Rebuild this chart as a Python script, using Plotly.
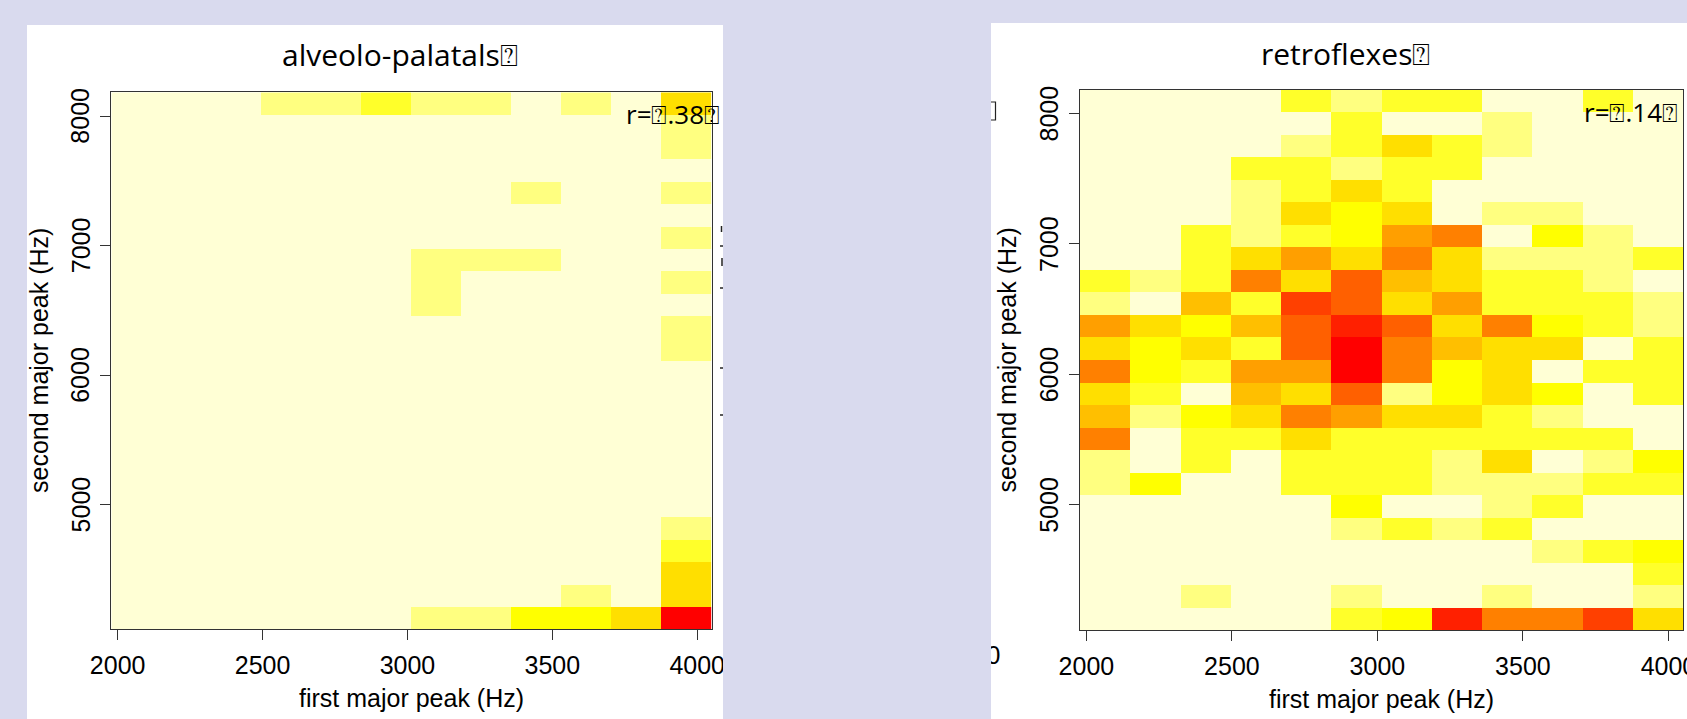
import plotly.graph_objects as go

W, H = 1687, 719
LAVENDER = "#D9DAEE"

# R heat.colors(12), reversed: level 0 (lowest) .. level 11 (highest)
HEAT = ["#FFFFD5", "#FFFF80", "#FFFF2A", "#FFFF00", "#FFDF00", "#FFBF00",
        "#FF9F00", "#FF8000", "#FF6000", "#FF4000", "#FF2000", "#FF0000"]

# bins (Hz)
bin_width = 172.67
x_start = 1978.0
y_start = 4040.0
n_x, n_y = 12, 24

x_ticks = [2000, 2500, 3000, 3500, 4000]
y_ticks = [5000, 6000, 7000, 8000]

titles = ["alveolo-palatals\u2370", "retroflexes\u2370"]
r_labels = ["r=\u2370.38\u2370", "r=\u2370.14\u2370"]
x_title = "first major peak (Hz)"
y_title = "second major peak (Hz)"

# colour level of each cell, rows from top (highest second peak) to bottom
alveolo_palatals = [
    [0, 0, 0, 1, 1, 2, 1, 1, 0, 1, 0, 4],
    [0, 0, 0, 0, 0, 0, 0, 0, 0, 0, 0, 1],
    [0, 0, 0, 0, 0, 0, 0, 0, 0, 0, 0, 1],
    [0, 0, 0, 0, 0, 0, 0, 0, 0, 0, 0, 0],
    [0, 0, 0, 0, 0, 0, 0, 0, 1, 0, 0, 1],
    [0, 0, 0, 0, 0, 0, 0, 0, 0, 0, 0, 0],
    [0, 0, 0, 0, 0, 0, 0, 0, 0, 0, 0, 1],
    [0, 0, 0, 0, 0, 0, 1, 1, 1, 0, 0, 0],
    [0, 0, 0, 0, 0, 0, 1, 0, 0, 0, 0, 1],
    [0, 0, 0, 0, 0, 0, 1, 0, 0, 0, 0, 0],
    [0, 0, 0, 0, 0, 0, 0, 0, 0, 0, 0, 1],
    [0, 0, 0, 0, 0, 0, 0, 0, 0, 0, 0, 1],
    [0, 0, 0, 0, 0, 0, 0, 0, 0, 0, 0, 0],
    [0, 0, 0, 0, 0, 0, 0, 0, 0, 0, 0, 0],
    [0, 0, 0, 0, 0, 0, 0, 0, 0, 0, 0, 0],
    [0, 0, 0, 0, 0, 0, 0, 0, 0, 0, 0, 0],
    [0, 0, 0, 0, 0, 0, 0, 0, 0, 0, 0, 0],
    [0, 0, 0, 0, 0, 0, 0, 0, 0, 0, 0, 0],
    [0, 0, 0, 0, 0, 0, 0, 0, 0, 0, 0, 0],
    [0, 0, 0, 0, 0, 0, 0, 0, 0, 0, 0, 1],
    [0, 0, 0, 0, 0, 0, 0, 0, 0, 0, 0, 2],
    [0, 0, 0, 0, 0, 0, 0, 0, 0, 0, 0, 4],
    [0, 0, 0, 0, 0, 0, 0, 0, 0, 1, 0, 4],
    [0, 0, 0, 0, 0, 0, 1, 1, 3, 3, 4, 11],
]

retroflexes = [
    [0, 0, 0, 0, 2, 1, 2, 2, 0, 0, 2, 0],
    [0, 0, 0, 0, 0, 2, 0, 0, 1, 0, 0, 0],
    [0, 0, 0, 0, 1, 2, 4, 2, 1, 0, 0, 0],
    [0, 0, 0, 2, 2, 1, 2, 2, 0, 0, 0, 0],
    [0, 0, 0, 1, 2, 4, 2, 0, 0, 0, 0, 0],
    [0, 0, 0, 1, 4, 3, 4, 0, 1, 1, 0, 0],
    [0, 0, 2, 1, 2, 3, 6, 7, 0, 3, 1, 0],
    [0, 0, 2, 4, 6, 4, 7, 4, 1, 1, 1, 2],
    [2, 1, 2, 7, 4, 8, 5, 4, 2, 2, 1, 0],
    [1, 0, 5, 2, 9, 8, 4, 6, 2, 2, 2, 1],
    [6, 4, 3, 5, 8, 10, 8, 4, 7, 3, 2, 1],
    [4, 3, 4, 2, 8, 11, 7, 5, 4, 4, 0, 2],
    [7, 3, 2, 6, 6, 11, 7, 3, 4, 0, 2, 2],
    [4, 2, 0, 5, 4, 8, 1, 3, 4, 3, 0, 2],
    [5, 1, 3, 4, 7, 6, 4, 4, 2, 1, 0, 0],
    [7, 0, 2, 2, 4, 2, 2, 2, 2, 2, 2, 0],
    [1, 0, 2, 0, 2, 2, 2, 1, 4, 0, 1, 3],
    [1, 3, 0, 0, 2, 2, 2, 1, 1, 1, 2, 2],
    [0, 0, 0, 0, 0, 3, 0, 0, 1, 2, 0, 0],
    [0, 0, 0, 0, 0, 1, 2, 1, 2, 0, 0, 0],
    [0, 0, 0, 0, 0, 0, 0, 0, 0, 1, 2, 3],
    [0, 0, 0, 0, 0, 0, 0, 0, 0, 0, 0, 2],
    [0, 0, 1, 0, 0, 1, 0, 0, 1, 0, 0, 1],
    [0, 0, 0, 0, 0, 2, 3, 10, 7, 7, 9, 4],
]

# ---------------------------------------------------------------------------
x_centers = [x_start + (j + 0.5) * bin_width for j in range(n_x)]
y_top = y_start + n_y * bin_width
y_centers = [y_top - (i + 0.5) * bin_width for i in range(n_y)]
x_range = [x_start, x_start + n_x * bin_width]
y_range = [y_start, y_top]

n = len(HEAT)
colorscale = []
for i, c in enumerate(HEAT):
    colorscale.append([i / n, c])
    colorscale.append([(i + 1) / n, c])

# panel geometry in pixels
plots = [
    dict(x0=111.3, x1=711.7, y0=92.3, y1=629.3),
    dict(x0=1080.0, x1=1683.0, y0=89.5, y1=630.0),
]
panels = [
    dict(x0=27, x1=723, y0=25, y1=H),
    dict(x0=991, x1=W, y0=23, y1=H),
]
title_pos = [(400, 55), (1345, 54)]
rlab_pos = [(722, 114), (1680, 112)]
xtitle_pos = [(411.5, 698), (1381.5, 699)]
ytitle_pos = [(39, 361), (1006.5, 360)]
ylabel_x = [80.5, 1049.0]   # centre of the rotated y tick labels (px)

TICKFONT = dict(family="Liberation Sans, Arial, sans-serif", size=25, color="#000")
TXTFONT = dict(family="Open Sans, DejaVu Sans, sans-serif", color="#000")

fig = go.Figure()
for k, z in enumerate([alveolo_palatals, retroflexes]):
    fig.add_trace(go.Heatmap(
        z=z, x=x_centers, y=y_centers, colorscale=colorscale,
        zmin=-0.5, zmax=n - 0.5, showscale=False, hoverinfo="skip",
        xaxis="x" if k == 0 else "x2", yaxis="y" if k == 0 else "y2"))

# decorative fragment of a neighbouring figure (cut off in the original slide)
fig.add_trace(go.Scatter(
    x=[993.5], y=[658], mode="text", text=["0"], textfont=TICKFONT,
    textposition="middle center", cliponaxis=False, hoverinfo="skip",
    showlegend=False, xaxis="x3", yaxis="y3"))

axis_common = dict(showgrid=False, zeroline=False, showline=True, mirror=True,
                   linecolor="#333", linewidth=1, ticks="outside", ticklen=10,
                   tickwidth=1, tickcolor="#333", tickfont=TICKFONT,
                   automargin=False, ticklabeloverflow="allow")

layout = dict(
    template="none",
    width=W, height=H, margin=dict(l=0, r=0, t=0, b=0, pad=0, autoexpand=False),
    paper_bgcolor=LAVENDER, plot_bgcolor="rgba(0,0,0,0)", showlegend=False,
    xaxis3=dict(domain=[0, 1], range=[0, W], visible=False, fixedrange=True,
                automargin=False, anchor="y3"),
    yaxis3=dict(domain=[0, 1], range=[H, 0], visible=False, fixedrange=True,
                automargin=False, anchor="x3"),
)
for k, p in enumerate(plots):
    sx = "" if k == 0 else "2"
    layout["xaxis" + sx] = dict(
        domain=[p["x0"] / W, p["x1"] / W], range=x_range, tickvals=x_ticks,
        anchor="y" + sx, ticklabelstandoff=4, **axis_common)
    layout["yaxis" + sx] = dict(
        domain=[1 - p["y1"] / H, 1 - p["y0"] / H], range=y_range,
        tickvals=y_ticks, showticklabels=False, anchor="x" + sx,
        **axis_common)

shapes = []
for pn in panels:
    shapes.append(dict(type="rect", xref="paper", yref="paper",
                       x0=pn["x0"] / W, x1=pn["x1"] / W,
                       y0=1 - pn["y1"] / H, y1=1 - pn["y0"] / H,
                       fillcolor="white", line=dict(width=0), layer="below"))
# lavender gap between the two panels (clips overflowing labels)
shapes.append(dict(type="rect", xref="paper", yref="paper",
                   x0=723 / W, x1=991 / W, y0=0, y1=1,
                   fillcolor=LAVENDER, line=dict(width=0), layer="above"))
# small marks from the cropped neighbouring figure
marks = [(720, 246, 723, 246), (720, 288, 723, 288), (720, 368, 723, 368),
         (720, 415, 723, 415), (721.5, 226, 721.5, 232), (722, 258, 722, 266)]
for (a, b, c, d) in marks:
    shapes.append(dict(type="line", xref="paper", yref="paper",
                       x0=a / W, x1=c / W, y0=1 - b / H, y1=1 - d / H,
                       line=dict(color="#222", width=1.5), layer="above"))
# right part of a missing-glyph box at the left edge of the right panel
shapes.append(dict(type="path", xref="paper", yref="paper",
                   path=f"M {991/W} {1-102/H} L {995.5/W} {1-102/H} "
                        f"L {995.5/W} {1-120/H} L {991/W} {1-120/H}",
                   line=dict(color="#222", width=1.2), layer="above"))
layout["shapes"] = shapes

ann = []
for k in range(2):
    sx = "" if k == 0 else "2"
    tx, ty = title_pos[k]
    ann.append(dict(text=titles[k], x=tx / W, y=1 - ty / H, xref="paper",
                    yref="paper", showarrow=False, xanchor="center",
                    yanchor="middle", font=dict(size=30, **TXTFONT)))
    rx, ry = rlab_pos[k]
    ann.append(dict(text=r_labels[k], x=rx / W, y=1 - ry / H, xref="paper",
                    yref="paper", showarrow=False, xanchor="right",
                    yanchor="middle", font=dict(size=26, **TXTFONT)))
    ax, ay = xtitle_pos[k]
    ann.append(dict(text=x_title, x=ax / W, y=1 - ay / H, xref="paper",
                    yref="paper", showarrow=False, xanchor="center",
                    yanchor="middle", font=TICKFONT))
    bx, by = ytitle_pos[k]
    ann.append(dict(text=y_title, x=bx / W, y=1 - by / H, xref="paper",
                    yref="paper", showarrow=False, xanchor="center",
                    yanchor="middle", textangle=-90, font=TICKFONT))
    # rotated y tick labels (R style), placed on the panel's y scale
    for v in y_ticks:
        ann.append(dict(text=str(v), x=ylabel_x[k] / W, y=v, xref="paper",
                        yref="y" + sx, showarrow=False, xanchor="center",
                        yanchor="middle", textangle=-90, font=TICKFONT))
layout["annotations"] = ann

fig.update_layout(**layout)
fig.write_html("out.html")
